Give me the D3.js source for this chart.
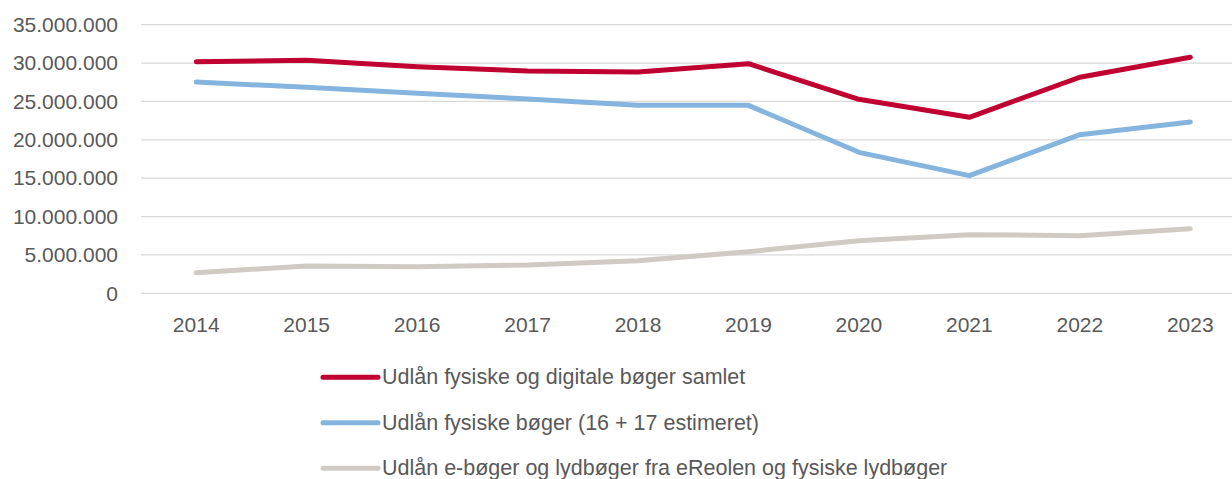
<!DOCTYPE html>
<html>
<head>
<meta charset="UTF-8">
<title>Udlån af bøger 2014-2023</title>
<script src="https://d3js.org/d3.v7.min.js"></script>
<style>
  body { margin: 0; padding: 0; background: #fff; }
  svg { display: block; font-family: "Liberation Sans", Arial, sans-serif; }
  .grid line { stroke: #d9d9d9; stroke-width: 1.3px; }
  .axis text { fill: #595959; font-size: 21px; }
  .legend text { fill: #595959; font-size: 21.5px; }
  .serie { fill: none; stroke-width: 5px; stroke-linecap: round; stroke-linejoin: round; }
</style>
</head>
<body>
<div id="chart"></div>
<script>
const years = ["2014", "2015", "2016", "2017", "2018", "2019", "2020", "2021", "2022", "2023"];
const samlet = [30180000, 30360000, 29530000, 28970000, 28840000, 29920000, 25280000, 22930000, 28150000, 30750000];
const fysiske = [27530000, 26840000, 26060000, 25320000, 24490000, 24490000, 18370000, 15330000, 20670000, 22320000];
const digitale = [2680000, 3560000, 3470000, 3690000, 4250000, 5420000, 6850000, 7640000, 7510000, 8420000];
const yTicks = [0, 5000000, 10000000, 15000000, 20000000, 25000000, 30000000, 35000000];
const seriesNames = [
  "Udlån fysiske og digitale bøger samlet",
  "Udlån fysiske bøger (16 + 17 estimeret)",
  "Udlån e-bøger og lydbøger fra eReolen og fysiske lydbøger"
];
const colors = ["#c00030", "#85b5df", "#cfcac4"];

const width = 1232, height = 479;
const svg = d3.select("#chart").append("svg")
  .attr("width", width)
  .attr("height", height);

const x = d3.scaleBand().domain(years).range([141, 1245.5]);
const y = d3.scaleLinear().domain([0, 35000000]).range([293.3, 24.7]);

// formattering med punktum som tusindtalsseparator
const fmt = d3.formatLocale({ decimal: ",", thousands: ".", grouping: [3], currency: ["", " kr."] }).format(",.0f");

// gitterlinjer
svg.append("g").attr("class", "grid")
  .selectAll("line").data(yTicks).join("line")
  .attr("x1", 141).attr("x2", width)
  .attr("y1", d => y(d)).attr("y2", d => y(d));

// y-akse
const yAxis = svg.append("g").attr("class", "axis")
  .attr("transform", "translate(118,0)")
  .call(d3.axisLeft(y).tickValues(yTicks).tickFormat(fmt).tickSize(0).tickPadding(0));
yAxis.select(".domain").remove();

// x-akse
const xAxis = svg.append("g").attr("class", "axis")
  .attr("transform", "translate(0,317)")
  .call(d3.axisBottom(x).tickSize(0).tickPadding(0));
xAxis.select(".domain").remove();
svg.selectAll(".axis text").attr("fill", "#595959").attr("font-size", 21);

const line = d3.line()
  .x((d, i) => x(years[i]) + x.bandwidth() / 2)
  .y(d => y(d));

const data = [samlet, fysiske, digitale];
// tegn grå først, så rød ligger øverst
svg.selectAll(".serie").data(data.map((d, i) => ({ values: d, i })).reverse())
  .join("path")
  .attr("class", "serie")
  .attr("stroke", d => colors[d.i])
  .attr("d", d => line(d.values));

// legende
const legend = svg.append("g").attr("class", "legend");
const rows = legend.selectAll("g").data(seriesNames).join("g")
  .attr("transform", (d, i) => `translate(0,${377.3 + i * 45.5})`);
rows.append("line")
  .attr("x1", 323).attr("x2", 378)
  .attr("stroke", (d, i) => colors[i])
  .attr("stroke-width", 5)
  .attr("stroke-linecap", "round");
rows.append("text")
  .attr("x", 382)
  .attr("dy", "0.33em")
  .text(d => d);
</script>
</body>
</html>
